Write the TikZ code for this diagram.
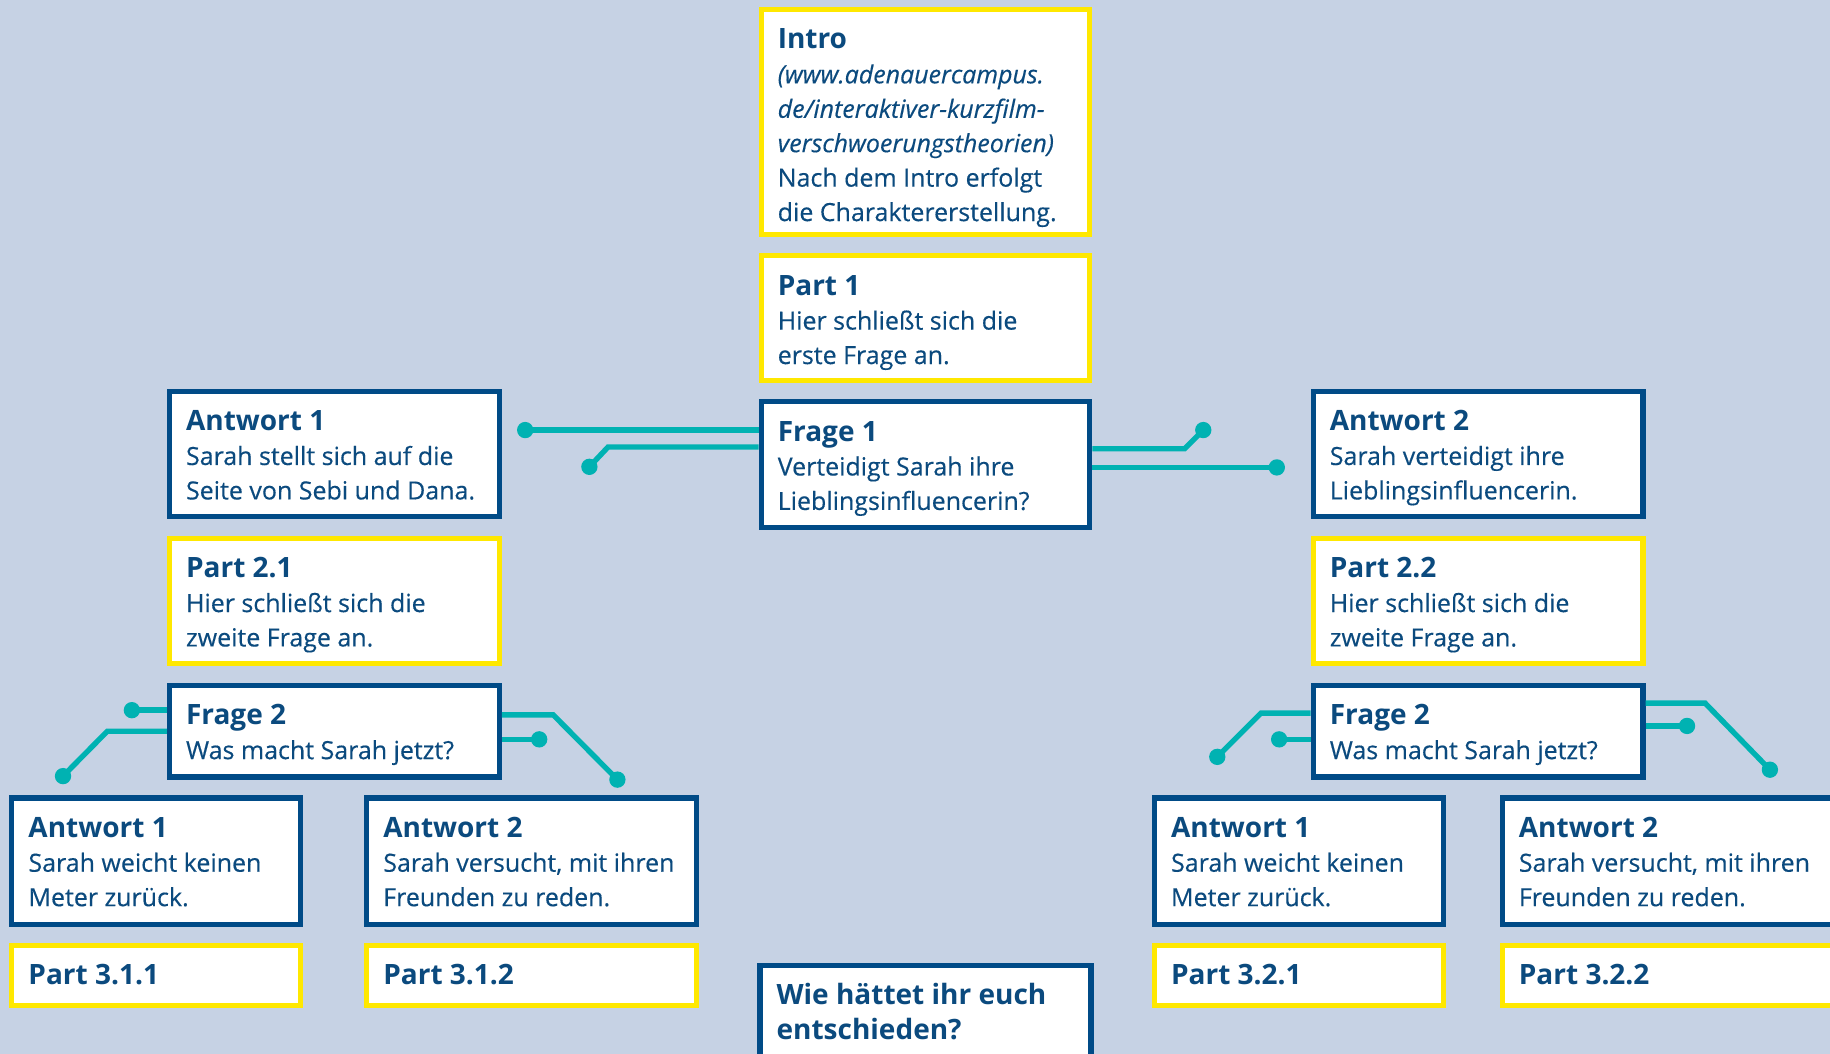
\documentclass[tikz,border=0pt]{standalone}
\usepackage{fontspec}
\setmainfont{Open Sans}
\newfontfamily\semib{Open Sans}[FakeBold=0.35]
\usetikzlibrary{calc}
\definecolor{bg}{HTML}{C6D2E4}
\definecolor{navy}{HTML}{004B87}
\definecolor{txtc}{HTML}{0B4A7E}
\definecolor{ylw}{HTML}{FFE800}
\definecolor{tealw}{HTML}{00B2B2}
\tikzset{
  box/.style={draw, fill=white, line width=2.2pt, anchor=north west, inner sep=0pt},
  bluebox/.style={box, draw=navy},
  yelbox/.style={box, draw=ylw},
  txt/.style={anchor=north west, inner sep=0pt, align=left, text=txtc,
    font=\semib\fontsize{10.7pt}{14.75pt}\selectfont},
  wire/.style={draw=tealw, line width=2.3pt},
  dotw/.style={fill=tealw},
}
\newcommand{\ttl}[1]{\rule{0pt}{11pt}{\normalfont\fontsize{12pt}{14.75pt}\selectfont\bfseries #1}}
\newcommand{\mkbox}[7]{%
  \node[#2, minimum width={(#5-#3)*0.5pt-2.2pt}, minimum height={(#6-#4)*0.5pt-2.2pt}] (#1) at (#3,#4) {};
  \node[txt] (#1-t) at (#3+16,#4+13.5) {#7};
}
\begin{document}
\begin{tikzpicture}[x=0.5pt,y=-0.5pt]
\useasboundingbox (0,0) rectangle (1568,903);
\fill[bg] (0,0) rectangle (1568,903);
\clip (0,0) rectangle (1568,903);

\mkbox{intro}{yelbox}{650}{6}{936}{203.5}{\ttl{Intro}\\\textit{(www.adenauercampus.}\\\textit{de/interaktiver-kurzfilm-}\\\textit{verschwoerungstheorien)}\\Nach dem Intro erfolgt\\die Charaktererstellung.}
\mkbox{p1}{yelbox}{650}{217}{936}{328.5}{\ttl{Part 1}\\Hier schließt sich die\\erste Frage an.}
\mkbox{f1}{bluebox}{650}{342}{936}{454}{\ttl{Frage 1}\\Verteidigt Sarah ihre\\Lieblingsinfluencerin?}

\mkbox{a1}{bluebox}{143}{333}{430}{445}{\ttl{Antwort 1}\\Sarah stellt sich auf die\\Seite von Sebi und Dana.}
\mkbox{p21}{yelbox}{143}{459}{430}{571}{\ttl{Part 2.1}\\Hier schließt sich die\\zweite Frage an.}
\mkbox{q2l}{bluebox}{143}{585}{430}{668}{\ttl{Frage 2}\\Was macht Sarah jetzt?}

\mkbox{a2}{bluebox}{1123}{333}{1410}{445}{\ttl{Antwort 2}\\Sarah verteidigt ihre\\Lieblingsinfluencerin.}
\mkbox{p22}{yelbox}{1123}{459}{1410}{571}{\ttl{Part 2.2}\\Hier schließt sich die\\zweite Frage an.}
\mkbox{q2r}{bluebox}{1123}{585}{1410}{668}{\ttl{Frage 2}\\Was macht Sarah jetzt?}

\mkbox{a11}{bluebox}{8}{681.5}{260}{794}{\ttl{Antwort 1}\\Sarah weicht keinen\\Meter zurück.}
\mkbox{a12}{bluebox}{312}{681.5}{599}{794}{\ttl{Antwort 2}\\Sarah versucht, mit ihren\\Freunden zu reden.}
\mkbox{p311}{yelbox}{8}{808}{260}{864}{\ttl{Part 3.1.1}}
\mkbox{p312}{yelbox}{312}{808}{599}{864}{\ttl{Part 3.1.2}}

\mkbox{wie}{bluebox}{649}{825}{937}{950}{\ttl{Wie hättet ihr euch}\\\ttl{entschieden?}}

\mkbox{a21}{bluebox}{987}{681.5}{1239}{794}{\ttl{Antwort 1}\\Sarah weicht keinen\\Meter zurück.}
\mkbox{a22}{bluebox}{1285}{681.5}{1572}{794}{\ttl{Antwort 2}\\Sarah versucht, mit ihren\\Freunden zu reden.}
\mkbox{p321}{yelbox}{987}{808}{1239}{864}{\ttl{Part 3.2.1}}
\mkbox{p322}{yelbox}{1285}{808}{1572}{864}{\ttl{Part 3.2.2}}

% wire ends and bends
\coordinate (d1) at (450,368.5);
\coordinate (b2) at (521,383);   \coordinate (d2) at (505,400);
\coordinate (b3) at (1015,384.5);\coordinate (d3) at (1031,368.5);
\coordinate (d4) at (1094,400.5);
\coordinate (d5) at (113,608.5);
\coordinate (b6) at (92,626.5);  \coordinate (d6) at (54,665);
\coordinate (b7) at (474,612.5); \coordinate (d7) at (529,668);
\coordinate (d8) at (462,633.5);
\coordinate (b9) at (1080.5,611);\coordinate (d9) at (1043,648.5);
\coordinate (d10) at (1096,633.5);
\coordinate (b11) at (1461,602.5);\coordinate (d11) at (1516.5,659.5);
\coordinate (d12) at (1445.5,622);

\draw[wire] (f1.west |- d1) -- (d1);
\draw[wire] (f1.west |- b2) -- (b2) -- (d2);
\draw[wire] (f1.east |- b3) -- (b3) -- (d3);
\draw[wire] (f1.east |- d4) -- (d4);
\draw[wire] (q2l.west |- d5) -- (d5);
\draw[wire] (q2l.west |- b6) -- (b6) -- (d6);
\draw[wire] (q2l.east |- b7) -- (b7) -- (d7);
\draw[wire] (q2l.east |- d8) -- (d8);
\draw[wire] (q2r.west |- b9) -- (b9) -- (d9);
\draw[wire] (q2r.west |- d10) -- (d10);
\draw[wire] (q2r.east |- b11) -- (b11) -- (d11);
\draw[wire] (q2r.east |- d12) -- (d12);
\foreach \d in {d1,d2,d3,d4,d5,d6,d7,d8,d9,d10,d11,d12}
  \fill[dotw] (\d) circle (7);
\end{tikzpicture}
\end{document}
